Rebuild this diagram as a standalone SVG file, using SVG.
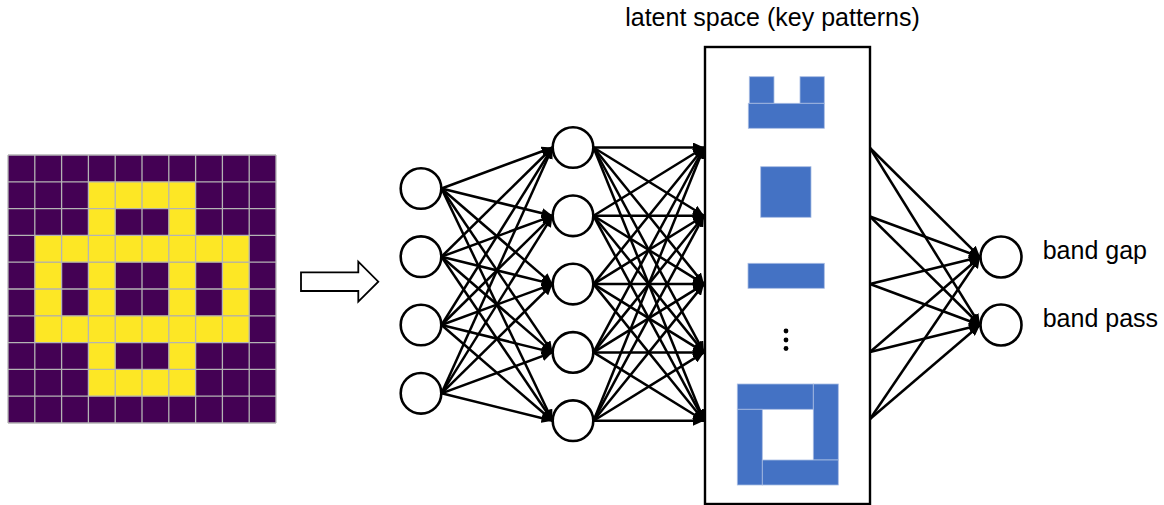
<svg xmlns="http://www.w3.org/2000/svg" width="1164" height="505" viewBox="0 0 1164 505">
<style>
.node{fill:#fff;stroke:#000;stroke-width:2.6}
.c{stroke:#000;stroke-width:2.5;fill:none;marker-end:url(#ah)}
.y{fill:#fde725}
.b{fill:#4472c4;stroke:#a9bde3;stroke-width:0.8}
.t{font-family:"Liberation Sans",Arial,sans-serif;font-size:25px;fill:#000}
</style>
<defs>
<marker id="ah" markerUnits="userSpaceOnUse" markerWidth="11" markerHeight="10" refX="11" refY="5" orient="auto">
<path d="M0,0 L11,5 L0,10 z" fill="#000"/>
</marker>
</defs>
<rect width="1164" height="505" fill="#fff"/>

<g id="input-grid">
<rect x="8" y="155" width="268" height="268" fill="#440154"/>
<rect class="y" x="88.4" y="181.8" width="107.2" height="26.8"/>
<rect class="y" x="88.4" y="208.6" width="26.8" height="26.8"/>
<rect class="y" x="168.8" y="208.6" width="26.8" height="26.8"/>
<rect class="y" x="34.8" y="235.4" width="214.4" height="26.8"/>
<rect class="y" x="34.8" y="262.2" width="26.8" height="53.6"/>
<rect class="y" x="88.4" y="262.2" width="26.8" height="53.6"/>
<rect class="y" x="168.8" y="262.2" width="26.8" height="53.6"/>
<rect class="y" x="222.4" y="262.2" width="26.8" height="53.6"/>
<rect class="y" x="34.8" y="315.8" width="214.4" height="26.8"/>
<rect class="y" x="88.4" y="342.6" width="26.8" height="26.8"/>
<rect class="y" x="168.8" y="342.6" width="26.8" height="26.8"/>
<rect class="y" x="88.4" y="369.4" width="107.2" height="26.8"/>
<path stroke="#b4b4b4" stroke-width="1.3" fill="none" d="M8,155V423M34.8,155V423M61.6,155V423M88.4,155V423M115.2,155V423M142,155V423M168.8,155V423M195.6,155V423M222.4,155V423M249.2,155V423M276,155V423M8,155H276M8,181.8H276M8,208.6H276M8,235.4H276M8,262.2H276M8,289H276M8,315.8H276M8,342.6H276M8,369.4H276M8,396.2H276M8,423H276"/>
</g>

<g id="block-arrow">
<polygon points="301,272.3 358.3,272.3 358.3,261.7 378.3,281.7 358.3,301.7 358.3,291 301,291" fill="#fff" stroke="#000" stroke-width="1.8"/>
</g>

<g id="connectors">
<line class="c" x1="441.5" y1="188.5" x2="552.5" y2="147.5"/>
<line class="c" x1="441.5" y1="188.5" x2="552.5" y2="215.8"/>
<line class="c" x1="441.5" y1="188.5" x2="552.5" y2="284.1"/>
<line class="c" x1="441.5" y1="188.5" x2="552.5" y2="352.4"/>
<line class="c" x1="441.5" y1="188.5" x2="552.5" y2="420.7"/>
<line class="c" x1="441.5" y1="256.7" x2="552.5" y2="147.5"/>
<line class="c" x1="441.5" y1="256.7" x2="552.5" y2="215.8"/>
<line class="c" x1="441.5" y1="256.7" x2="552.5" y2="284.1"/>
<line class="c" x1="441.5" y1="256.7" x2="552.5" y2="352.4"/>
<line class="c" x1="441.5" y1="256.7" x2="552.5" y2="420.7"/>
<line class="c" x1="441.5" y1="325" x2="552.5" y2="147.5"/>
<line class="c" x1="441.5" y1="325" x2="552.5" y2="215.8"/>
<line class="c" x1="441.5" y1="325" x2="552.5" y2="284.1"/>
<line class="c" x1="441.5" y1="325" x2="552.5" y2="352.4"/>
<line class="c" x1="441.5" y1="325" x2="552.5" y2="420.7"/>
<line class="c" x1="441.5" y1="393.3" x2="552.5" y2="147.5"/>
<line class="c" x1="441.5" y1="393.3" x2="552.5" y2="215.8"/>
<line class="c" x1="441.5" y1="393.3" x2="552.5" y2="284.1"/>
<line class="c" x1="441.5" y1="393.3" x2="552.5" y2="352.4"/>
<line class="c" x1="441.5" y1="393.3" x2="552.5" y2="420.7"/>

<line class="c" x1="593.5" y1="147.5" x2="704" y2="147.5"/>
<line class="c" x1="593.5" y1="147.5" x2="704" y2="215.8"/>
<line class="c" x1="593.5" y1="147.5" x2="704" y2="284.1"/>
<line class="c" x1="593.5" y1="147.5" x2="704" y2="352.4"/>
<line class="c" x1="593.5" y1="147.5" x2="704" y2="420.7"/>
<line class="c" x1="593.5" y1="215.8" x2="704" y2="147.5"/>
<line class="c" x1="593.5" y1="215.8" x2="704" y2="215.8"/>
<line class="c" x1="593.5" y1="215.8" x2="704" y2="284.1"/>
<line class="c" x1="593.5" y1="215.8" x2="704" y2="352.4"/>
<line class="c" x1="593.5" y1="215.8" x2="704" y2="420.7"/>
<line class="c" x1="593.5" y1="284.1" x2="704" y2="147.5"/>
<line class="c" x1="593.5" y1="284.1" x2="704" y2="215.8"/>
<line class="c" x1="593.5" y1="284.1" x2="704" y2="284.1"/>
<line class="c" x1="593.5" y1="284.1" x2="704" y2="352.4"/>
<line class="c" x1="593.5" y1="284.1" x2="704" y2="420.7"/>
<line class="c" x1="593.5" y1="352.4" x2="704" y2="147.5"/>
<line class="c" x1="593.5" y1="352.4" x2="704" y2="215.8"/>
<line class="c" x1="593.5" y1="352.4" x2="704" y2="284.1"/>
<line class="c" x1="593.5" y1="352.4" x2="704" y2="352.4"/>
<line class="c" x1="593.5" y1="352.4" x2="704" y2="420.7"/>
<line class="c" x1="593.5" y1="420.7" x2="704" y2="147.5"/>
<line class="c" x1="593.5" y1="420.7" x2="704" y2="215.8"/>
<line class="c" x1="593.5" y1="420.7" x2="704" y2="284.1"/>
<line class="c" x1="593.5" y1="420.7" x2="704" y2="352.4"/>
<line class="c" x1="593.5" y1="420.7" x2="704" y2="420.7"/>

<line class="c" x1="870" y1="148" x2="980" y2="257"/>
<line class="c" x1="870" y1="148" x2="980" y2="325"/>
<line class="c" x1="870" y1="216.5" x2="980" y2="257"/>
<line class="c" x1="870" y1="216.5" x2="980" y2="325"/>
<line class="c" x1="870" y1="284" x2="980" y2="257"/>
<line class="c" x1="870" y1="284" x2="980" y2="325"/>
<line class="c" x1="870" y1="352" x2="980" y2="257"/>
<line class="c" x1="870" y1="352" x2="980" y2="325"/>
<line class="c" x1="870" y1="419" x2="980" y2="257"/>
<line class="c" x1="870" y1="419" x2="980" y2="325"/>
</g>

<g id="input-layer">
<circle class="node" cx="421" cy="188.5" r="20.3"/>
<circle class="node" cx="421" cy="256.7" r="20.3"/>
<circle class="node" cx="421" cy="325" r="20.3"/>
<circle class="node" cx="421" cy="393.3" r="20.3"/>
</g>

<g id="hidden-layer">
<circle class="node" cx="573" cy="147.5" r="20.3"/>
<circle class="node" cx="573" cy="215.8" r="20.3"/>
<circle class="node" cx="573" cy="284.1" r="20.3"/>
<circle class="node" cx="573" cy="352.4" r="20.3"/>
<circle class="node" cx="573" cy="420.7" r="20.3"/>
</g>

<g id="latent-space">
<rect x="705" y="47" width="165" height="457" fill="none" stroke="#000" stroke-width="2.4"/>
<text class="t" x="772.5" y="26" text-anchor="middle">latent space (key patterns)</text>
<rect class="b" x="749.3" y="76.7" width="24.7" height="26.6"/>
<rect class="b" x="800" y="76.7" width="24.3" height="26.6"/>
<rect class="b" x="748.3" y="103.3" width="76" height="25"/>
<rect class="b" x="760.7" y="166.7" width="50.3" height="50.6"/>
<rect class="b" x="748" y="263.3" width="76.3" height="25"/>
<circle cx="786" cy="331" r="2.4" fill="#000"/>
<circle cx="786" cy="340" r="2.4" fill="#000"/>
<circle cx="786" cy="348.5" r="2.4" fill="#000"/>
<rect class="b" x="737.3" y="384" width="76" height="25.3"/>
<rect class="b" x="813.3" y="384" width="25" height="76"/>
<rect class="b" x="737.3" y="409.3" width="25" height="75.7"/>
<rect class="b" x="762.3" y="460" width="76" height="25"/>
</g>

<g id="output-band-gap">
<circle class="node" cx="1001" cy="257" r="20.5"/>
<text class="t" x="1042.7" y="259">band gap</text>
</g>
<g id="output-band-pass">
<circle class="node" cx="1001" cy="325" r="20.5"/>
<text class="t" x="1042.7" y="327">band pass</text>
</g>
</svg>
